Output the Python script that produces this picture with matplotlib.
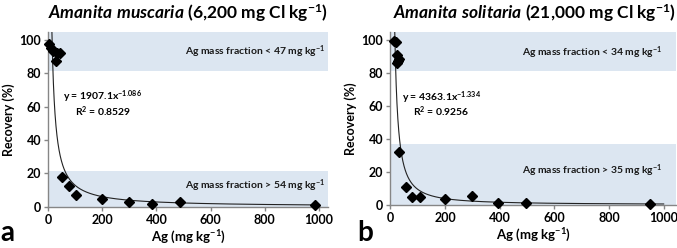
import matplotlib
matplotlib.use("Agg")
import matplotlib.pyplot as plt
import numpy as np

plt.rcParams['font.family'] = ['Lato', 'DejaVu Sans']
plt.rcParams['mathtext.fontset'] = 'custom'
plt.rcParams['mathtext.rm'] = 'Lato'
plt.rcParams['mathtext.bf'] = 'Lato:bold'
plt.rcParams['mathtext.it'] = 'Lato:italic:bold'

# Panel a: Amanita muscaria
a_x = [5, 12, 20, 35, 46, 30, 53, 79, 103, 200, 300, 384, 488, 985]
a_y = [97.5, 95.5, 93.5, 92.5, 92.5, 87.5, 17.6, 12.6, 6.8, 4.6, 2.6, 1.8, 2.8, 1.0]
a_coef, a_exp = 1907.1, -1.086
# Panel b: Amanita solitaria
b_x = [12, 20, 25, 33, 24, 28, 33, 57, 80, 108, 200, 298, 394, 496, 950]
b_y = [99.6, 98.8, 91, 88.5, 86, 87.5, 32.2, 10.5, 4.9, 4.9, 3.5, 5.3, 1.2, 1.2, 0.5]
b_coef, b_exp = 4363.1, -1.334

xticks = [0, 200, 400, 600, 800, 1000]
yticks = [0, 20, 40, 60, 80, 100]

band_color = '#dce6f1'
gray = '#868686'

fig = plt.figure(figsize=(6.77, 2.48), dpi=100)

panels = [
    dict(rect=[0.0709, 0.1665, 0.4136, 0.7056], x=a_x, y=a_y, c=a_coef, e=a_exp,
         xmax=1033, top_band=(81.5, 105), bot_band=(0, 21.6),
         top_txt=r'Ag mass fraction < 47 mg kg$^{\mathbf{-1}}$', top_ty=92.8,
         bot_txt=r'Ag mass fraction > 54 mg kg$^{\mathbf{-1}}$', bot_ty=12.6,
         eq=r'y = 1907.1x$^{\mathbf{-1.086}}$', r2=r'R$^{\mathbf{2}}$ = 0.8529',
         eq_pos=(55, 65.8), r2_pos=(98, 56.8),
         title=r'$\mathit{Amanita\ muscaria}$ (6,200 mg Cl kg$^{\mathbf{-1}}$)',
         letter='a', letter_x=0.0, txt_x=1025),
    dict(rect=[0.5765, 0.1746, 0.4220, 0.6976], x=b_x, y=b_y, c=b_coef, e=b_exp,
         xmax=1045, top_band=(81.2, 105), bot_band=(0, 36.9),
         top_txt=r'Ag mass fraction < 34 mg kg$^{\mathbf{-1}}$', top_ty=92.5,
         bot_txt=r'Ag mass fraction > 35 mg kg$^{\mathbf{-1}}$', bot_ty=20.6,
         eq=r'y = 4363.1x$^{\mathbf{-1.334}}$', r2=r'R$^{\mathbf{2}}$ = 0.9256',
         eq_pos=(42, 65), r2_pos=(82, 56.2),
         title=r'$\mathit{Amanita\ solitaria}$ (21,000 mg Cl kg$^{\mathbf{-1}}$)',
         letter='b', letter_x=0.527, txt_x=995),
]

for p in panels:
    ax = fig.add_axes(p['rect'])
    ax.set_xlim(0, p['xmax'])
    ax.set_ylim(0, 105)
    ax.axhspan(*p['top_band'], color=band_color, lw=0, zorder=0)
    ax.axhspan(*p['bot_band'], color=band_color, lw=0, zorder=0)
    x0 = (105 / p['c']) ** (1 / p['e'])
    xs = np.geomspace(x0, 1000, 400)
    ax.plot(xs, p['c'] * xs ** p['e'], color='#222222', lw=0.8, zorder=2)
    ax.plot(p['x'], p['y'], 'D', color='black', ms=5.5, zorder=3, clip_on=False)
    for s in ['top', 'right']:
        ax.spines[s].set_visible(False)
    for s in ['left', 'bottom']:
        ax.spines[s].set_color(gray)
        ax.spines[s].set_linewidth(1.0)
    ax.set_xticks(xticks)
    ax.set_yticks(yticks)
    ax.tick_params(direction='out', length=3, width=1, color=gray, labelsize=9, pad=2)
    for lab in ax.get_xticklabels() + ax.get_yticklabels():
        lab.set_fontweight('bold')
    ax.set_xlabel(r'Ag (mg kg$^{\mathbf{-1}}$)', fontsize=9.5, fontweight='bold', labelpad=2)
    ax.set_ylabel('Recovery (%)', fontsize=9, fontweight='bold', labelpad=3)
    ax.text(p['txt_x'], p['top_ty'], p['top_txt'], ha='right', va='center', fontsize=7.5, fontweight='bold', color='#1a1a1a')
    ax.text(p['txt_x'], p['bot_ty'], p['bot_txt'], ha='right', va='center', fontsize=7.5, fontweight='bold', color='#1a1a1a')
    ax.text(p['eq_pos'][0], p['eq_pos'][1], p['eq'], ha='left', va='center', fontsize=7.5, fontweight='bold')
    ax.text(p['r2_pos'][0], p['r2_pos'][1], p['r2'], ha='left', va='center', fontsize=7.5, fontweight='bold')
    ax.set_title(p['title'], fontsize=12.5, fontweight='bold', loc='right', pad=9)
    fig.text(p['letter_x'], 0.01, p['letter'], fontsize=20, fontweight='bold', ha='left', va='bottom')

fig.savefig('out.png', dpi=100)
